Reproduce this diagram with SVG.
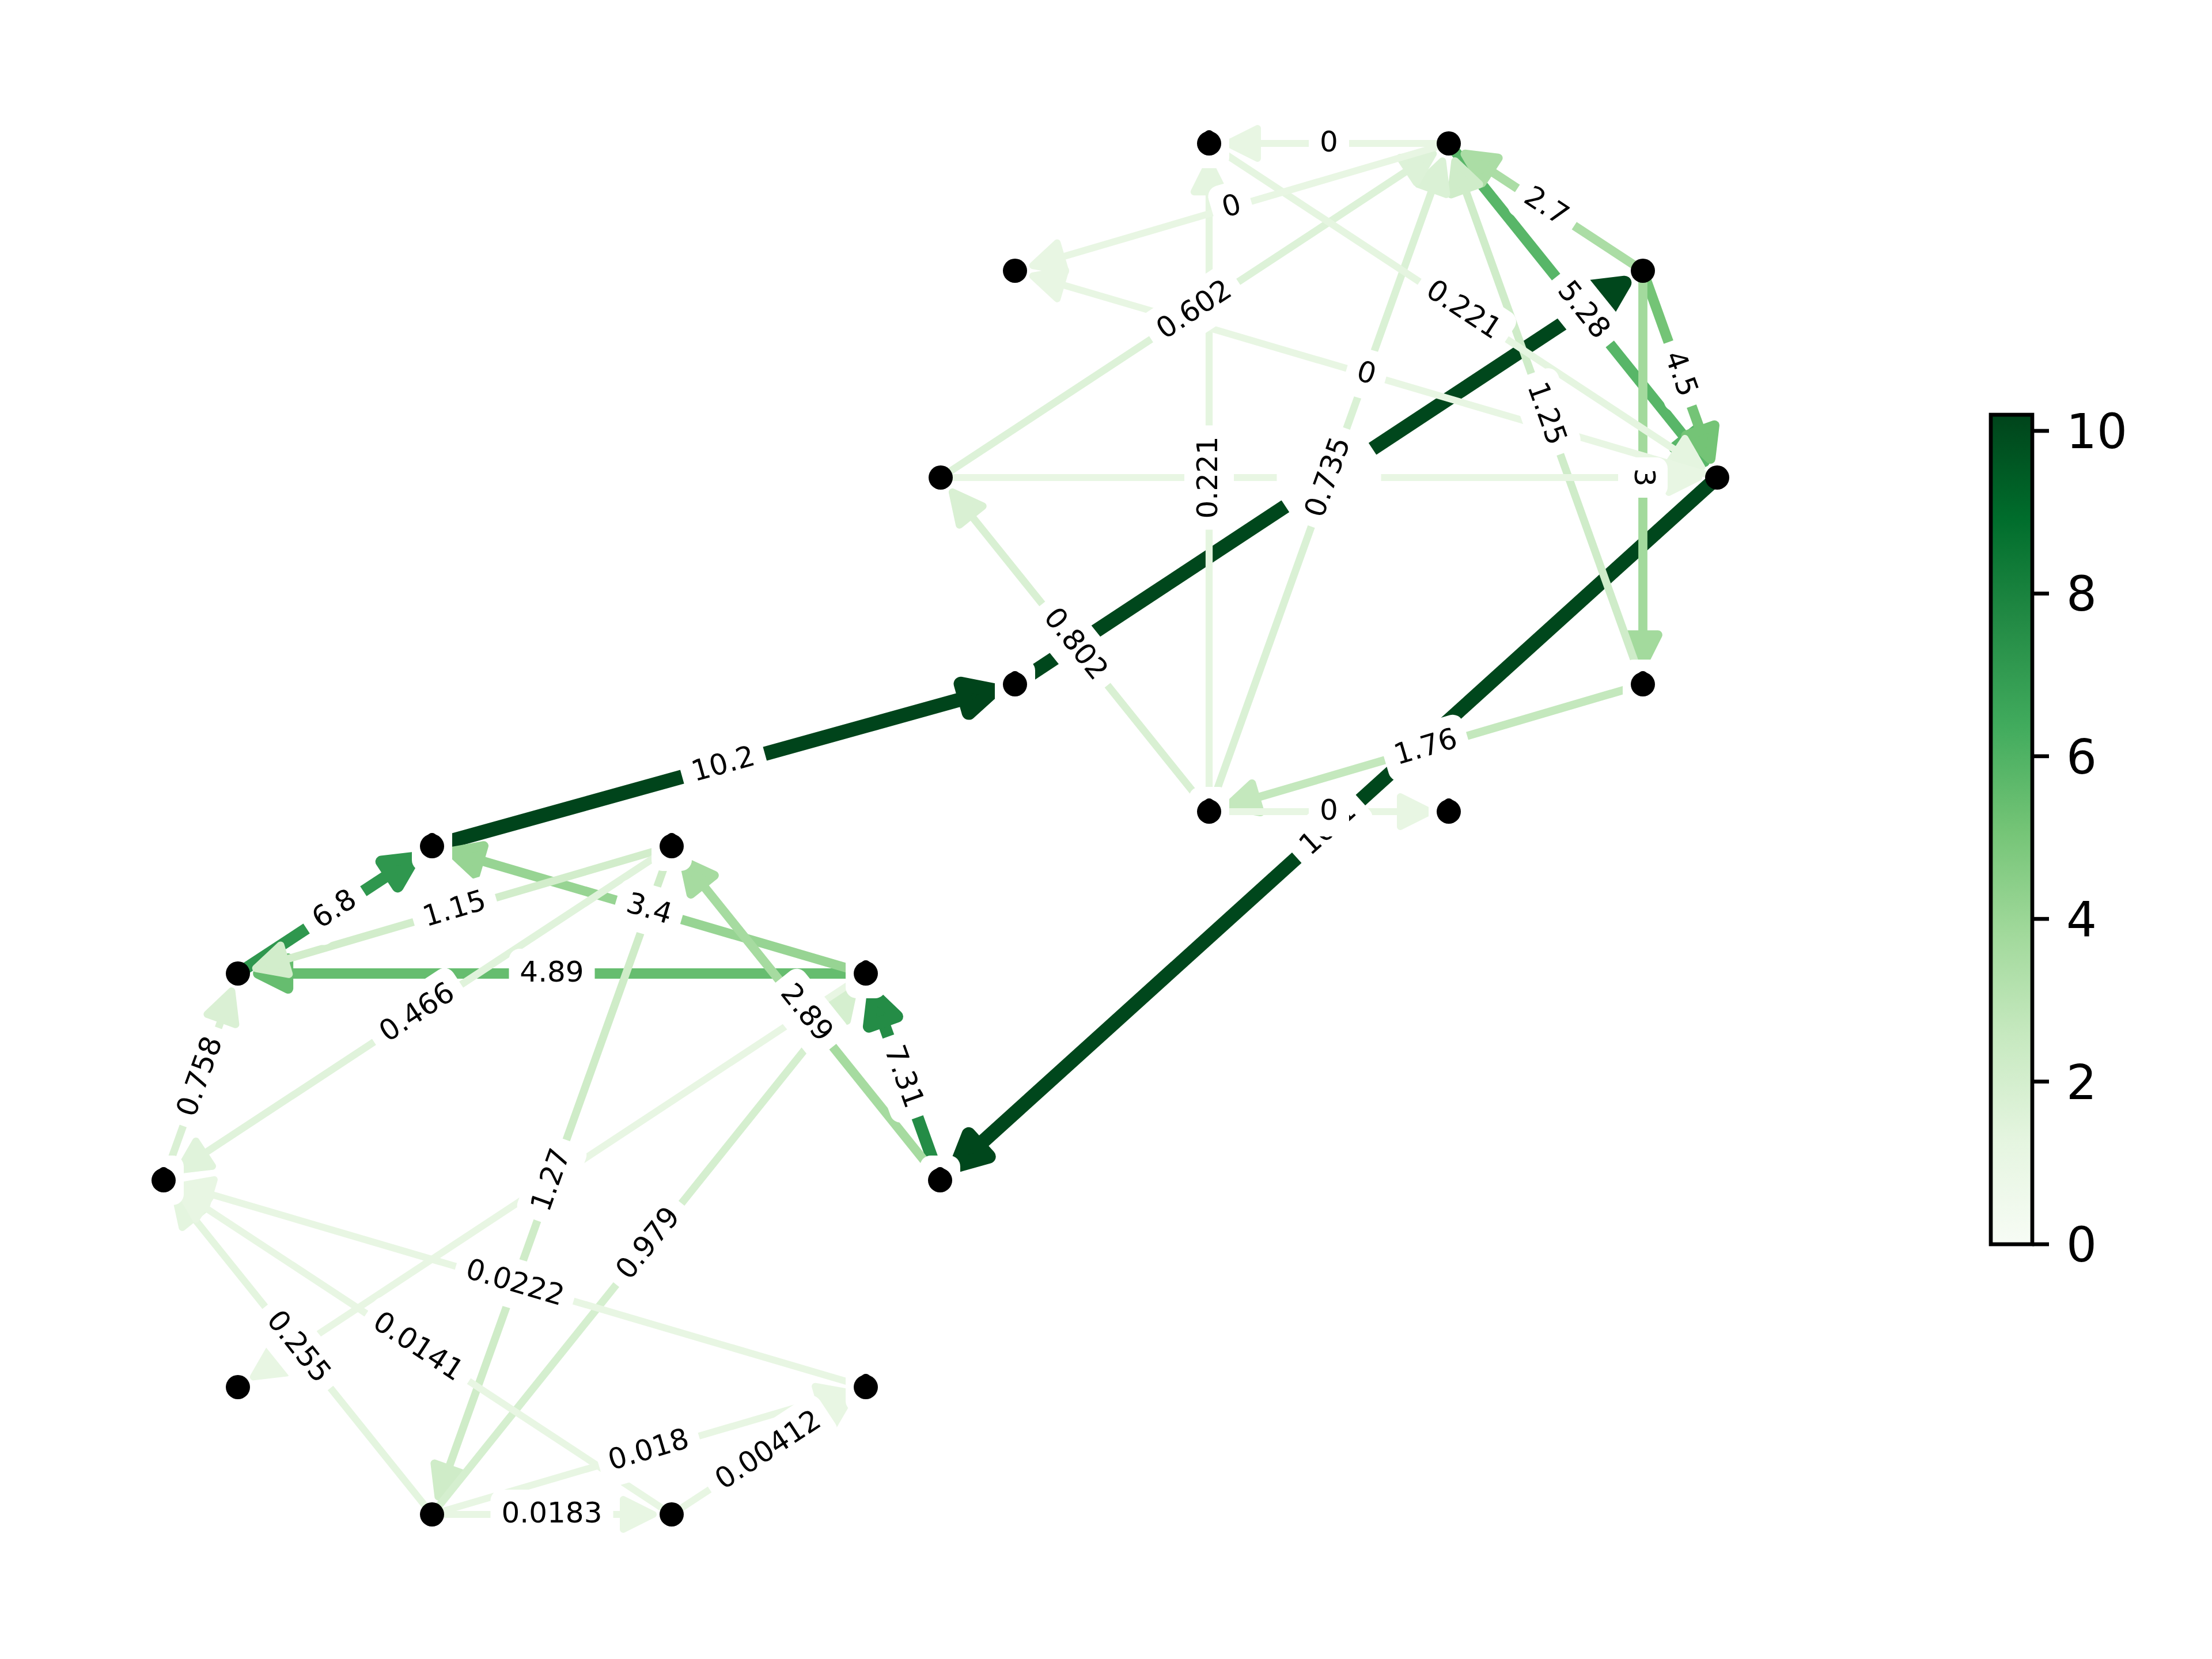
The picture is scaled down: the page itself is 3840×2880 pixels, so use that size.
<svg xmlns="http://www.w3.org/2000/svg" width="3840" height="2880" viewBox="0 0 3840 2880">
<defs>
<linearGradient id="greens" x1="0" y1="1" x2="0" y2="0">
<stop offset="0" stop-color="#f7fcf5"/>
<stop offset="0.125" stop-color="#e5f5e0"/>
<stop offset="0.25" stop-color="#c7e9c0"/>
<stop offset="0.375" stop-color="#a1d99b"/>
<stop offset="0.5" stop-color="#74c476"/>
<stop offset="0.625" stop-color="#41ab5d"/>
<stop offset="0.75" stop-color="#238b45"/>
<stop offset="0.875" stop-color="#006d2c"/>
<stop offset="1" stop-color="#00441b"/>
</linearGradient>
<style>
.edge line{fill:none;stroke-linecap:butt}
.edge polygon{stroke-linejoin:round}
.bx{fill:#ffffff;stroke:none}
.lbl{font-family:"DejaVu Sans","Liberation Sans",sans-serif;font-size:50px;text-anchor:middle;fill:#000000}
.node circle{fill:#000000}
.tick{font-family:"DejaVu Sans","Liberation Sans",sans-serif;font-size:83.3px;fill:#000000}
</style>
</defs>
<rect width="3840" height="2880" fill="#ffffff"/>
<g id="edges">
<g class="edge" id="e-K-H" stroke="#00441b" fill="#00441b" stroke-width="24.75"><line x1="750" y1="1469" x2="1677.8" y2="1211.4"/><polygon points="1725.0,1198.3 1681.9,1237.2 1667.9,1187.1"/></g>
<g class="edge" id="e-F-P" stroke="#00471c" fill="#00471c" stroke-width="24.63"><line x1="2981" y1="829" x2="1696.8" y2="1990.4"/><polygon points="1660.4,2023.3 1681.6,1969.2 1716.4,2007.7"/></g>
<g class="edge" id="e-H-C" stroke="#00471c" fill="#00471c" stroke-width="24.5"><line x1="1762" y1="1188" x2="2779.1" y2="518.0"/><polygon points="2820.1,491.0 2790.9,541.4 2762.3,498.0"/></g>
<g class="edge" id="e-P-N" stroke="#248c46" fill="#248c46" stroke-width="21.14"><line x1="1632" y1="2049" x2="1531.9" y2="1770.5"/><polygon points="1515.4,1724.4 1557.4,1764.6 1508.5,1782.1"/></g>
<g class="edge" id="e-M-K" stroke="#2f974e" fill="#2f974e" stroke-width="20.5"><line x1="413" y1="1690" x2="678.7" y2="1515.8"/><polygon points="719.7,1488.9 690.5,1539.1 661.9,1495.7"/></g>
<g class="edge" id="e-B-F" stroke="#58b668" fill="#58b668" stroke-width="18.6"><line x1="2515" y1="249" x2="2928.2" y2="763.3"/><polygon points="2958.9,801.5 2906.0,777.2 2946.6,744.7"/></g>
<g class="edge" id="e-N-M" stroke="#66bd6f" fill="#66bd6f" stroke-width="18.11"><line x1="1503" y1="1690" x2="497.1" y2="1690"/><polygon points="448.1,1690 500.1,1664 500.1,1716"/></g>
<g class="edge" id="e-C-F" stroke="#74c476" fill="#74c476" stroke-width="17.63"><line x1="2852" y1="470" x2="2952.7" y2="750.1"/><polygon points="2969.2,796.3 2927.2,756.1 2976.1,738.5"/></g>
<g class="edge" id="e-N-K" stroke="#97d493" fill="#97d493" stroke-width="16.25"><line x1="1503" y1="1690" x2="829.8" y2="1492.4"/><polygon points="782.7,1478.6 839.9,1468.3 825.3,1518.2"/></g>
<g class="edge" id="e-C-G" stroke="#a3da9d" fill="#a3da9d" stroke-width="15.75"><line x1="2852" y1="470" x2="2852" y2="1105.1"/><polygon points="2852,1154.1 2826,1102.1 2878,1102.1"/></g>
<g class="edge" id="e-P-L" stroke="#a6dba0" fill="#a6dba0" stroke-width="15.61"><line x1="1632" y1="2049" x2="1217.9" y2="1533.6"/><polygon points="1187.2,1495.4 1240.0,1519.6 1199.4,1552.2"/></g>
<g class="edge" id="e-C-B" stroke="#abdda5" fill="#abdda5" stroke-width="15.38"><line x1="2852" y1="470" x2="2584.1" y2="294.3"/><polygon points="2543.2,267.5 2600.9,274.3 2572.4,317.7"/></g>
<g class="edge" id="e-G-I" stroke="#c4e8bd" fill="#c4e8bd" stroke-width="14.2"><line x1="2852" y1="1188" x2="2177.8" y2="1385.9"/><polygon points="2130.8,1399.7 2173.3,1360.1 2188.0,1410.0"/></g>
<g class="edge" id="e-L-S" stroke="#cfecc8" fill="#cfecc8" stroke-width="13.59"><line x1="1166" y1="1469" x2="777.6" y2="2552.0"/><polygon points="761.1,2598.1 754.2,2540.4 803.1,2558.0"/></g>
<g class="edge" id="e-G-B" stroke="#cfecc9" fill="#cfecc9" stroke-width="13.56"><line x1="2852" y1="1188" x2="2542.6" y2="326.0"/><polygon points="2526.1,279.9 2568.1,320.0 2519.2,337.6"/></g>
<g class="edge" id="e-L-M" stroke="#d2edcb" fill="#d2edcb" stroke-width="13.44"><line x1="1166" y1="1469" x2="491.4" y2="1667.0"/><polygon points="444.4,1680.8 487.0,1641.2 501.6,1691.1"/></g>
<g class="edge" id="e-S-N" stroke="#d5efcf" fill="#d5efcf" stroke-width="13.22"><line x1="750" y1="2629" x2="1451.9" y2="1753.7"/><polygon points="1482.6,1715.4 1470.4,1772.3 1429.8,1739.7"/></g>
<g class="edge" id="e-I-E" stroke="#d9f0d3" fill="#d9f0d3" stroke-width="13.0"><line x1="2099" y1="1409" x2="1684.0" y2="892.5"/><polygon points="1653.4,854.3 1706.2,878.6 1665.6,911.2"/></g>
<g class="edge" id="e-O-M" stroke="#daf0d4" fill="#daf0d4" stroke-width="12.95"><line x1="284" y1="2049" x2="385.5" y2="1766.7"/><polygon points="402.0,1720.6 408.9,1778.3 359.9,1760.7"/></g>
<g class="edge" id="e-I-B" stroke="#daf1d5" fill="#daf1d5" stroke-width="12.92"><line x1="2099" y1="1409" x2="2487.5" y2="325.7"/><polygon points="2504.0,279.6 2511.0,337.3 2462.0,319.7"/></g>
<g class="edge" id="e-E-B" stroke="#ddf2d8" fill="#ddf2d8" stroke-width="12.75"><line x1="1633" y1="829" x2="2447.0" y2="293.7"/><polygon points="2487.9,266.8 2458.8,317.1 2430.2,273.7"/></g>
<g class="edge" id="e-L-O" stroke="#e0f3db" fill="#e0f3db" stroke-width="12.58"><line x1="1166" y1="1469" x2="351.9" y2="2004.3"/><polygon points="311.0,2031.3 340.1,1981.0 368.7,2024.4"/></g>
<g class="edge" id="e-S-O" stroke="#e4f5df" fill="#e4f5df" stroke-width="12.32"><line x1="750" y1="2629" x2="334.8" y2="2112.3"/><polygon points="304.1,2074.1 357.0,2098.3 316.4,2130.9"/></g>
<g class="edge" id="e-I-A" stroke="#e5f5e0" fill="#e5f5e0" stroke-width="12.28"><line x1="2099" y1="1409" x2="2099" y2="330.1"/><polygon points="2099,281.1 2073,333.1 2125,333.1"/></g>
<g class="edge" id="e-A-F" stroke="#e5f5e0" fill="#e5f5e0" stroke-width="12.28"><line x1="2099" y1="249" x2="2913.2" y2="784.4"/><polygon points="2954.1,811.3 2896.4,804.5 2925.0,761.1"/></g>
<g class="edge" id="e-R-O" stroke="#e8f6e3" fill="#e8f6e3" stroke-width="12.03"><line x1="1503" y1="2408" x2="361.7" y2="2071.9"/><polygon points="314.7,2058.0 371.9,2047.8 357.2,2097.7"/></g>
<g class="edge" id="e-S-T" stroke="#e8f6e3" fill="#e8f6e3" stroke-width="12"><line x1="750" y1="2629" x2="1085" y2="2629"/><polygon points="1134,2629 1082,2603 1082,2655"/></g>
<g class="edge" id="e-S-R" stroke="#e8f6e3" fill="#e8f6e3" stroke-width="12"><line x1="750" y1="2629" x2="1425.3" y2="2430.8"/><polygon points="1472.3,2417.0 1429.7,2456.6 1415.1,2406.7"/></g>
<g class="edge" id="e-T-O" stroke="#e8f6e3" fill="#e8f6e3" stroke-width="12"><line x1="1166" y1="2629" x2="351.7" y2="2093.5"/><polygon points="310.7,2066.6 368.5,2073.4 339.9,2116.9"/></g>
<g class="edge" id="e-T-R" stroke="#e8f6e3" fill="#e8f6e3" stroke-width="12"><line x1="1166" y1="2629" x2="1435.3" y2="2452.4"/><polygon points="1476.2,2425.5 1447.0,2475.8 1418.5,2432.3"/></g>
<g class="edge" id="e-B-A" stroke="#e8f6e3" fill="#e8f6e3" stroke-width="12"><line x1="2515" y1="249" x2="2180" y2="249"/><polygon points="2131,249 2183,223 2183,275"/></g>
<g class="edge" id="e-B-D" stroke="#e8f6e3" fill="#e8f6e3" stroke-width="12"><line x1="2515" y1="249" x2="1839.7" y2="447.2"/><polygon points="1792.7,461.0 1849.9,471.3 1835.3,421.4"/></g>
<g class="edge" id="e-F-D" stroke="#e8f6e3" fill="#e8f6e3" stroke-width="12"><line x1="2981" y1="829" x2="1839.7" y2="492.9"/><polygon points="1792.7,479.0 1849.9,468.8 1835.2,518.7"/></g>
<g class="edge" id="e-E-F" stroke="#e8f6e3" fill="#e8f6e3" stroke-width="12"><line x1="1633" y1="829" x2="2900" y2="829"/><polygon points="2949,829 2897,803 2897,855"/></g>
<g class="edge" id="e-I-J" stroke="#e8f6e3" fill="#e8f6e3" stroke-width="12"><line x1="2099" y1="1409" x2="2434" y2="1409"/><polygon points="2483,1409 2431,1383 2431,1435"/></g>
<g class="edge" id="e-N-Q" stroke="#e8f6e3" fill="#e8f6e3" stroke-width="12"><line x1="1503" y1="1690" x2="480.6" y2="2363.4"/><polygon points="439.7,2390.4 468.8,2340.1 497.4,2383.5"/></g>
</g>
<g id="edge-labels">
<g transform="translate(2099,249)"><rect class="bx" x="-35" y="-43" width="70" height="86" rx="19"/><ellipse cx="0" cy="-4.2" rx="12.5" ry="18.9" fill="#000"/></g>
<g transform="translate(2852,1188)"><rect class="bx" x="-35" y="-43" width="70" height="86" rx="19"/><ellipse cx="0" cy="-4.2" rx="12.5" ry="18.9" fill="#000"/></g>
<g transform="translate(1762,1188)"><rect class="bx" x="-35" y="-43" width="70" height="86" rx="19"/><ellipse cx="0" cy="-4.2" rx="12.5" ry="18.9" fill="#000"/></g>
<g transform="translate(2099,1409)"><rect class="bx" x="-35" y="-43" width="70" height="86" rx="19"/><ellipse cx="0" cy="-4.2" rx="12.5" ry="18.9" fill="#000"/></g>
<g transform="translate(2515,1409)"><rect class="bx" x="-35" y="-43" width="70" height="86" rx="19"/><ellipse cx="0" cy="-4.2" rx="12.5" ry="18.9" fill="#000"/></g>
<g transform="translate(750,1469)"><rect class="bx" x="-35" y="-43" width="70" height="86" rx="19"/><ellipse cx="0" cy="-4.2" rx="12.5" ry="18.9" fill="#000"/></g>
<g transform="translate(1166,1469)"><rect class="bx" x="-35" y="-43" width="70" height="86" rx="19"/><ellipse cx="0" cy="-4.2" rx="12.5" ry="18.9" fill="#000"/></g>
<g transform="translate(1503,1690)"><rect class="bx" x="-35" y="-43" width="70" height="86" rx="19"/><ellipse cx="0" cy="-4.2" rx="12.5" ry="18.9" fill="#000"/></g>
<g transform="translate(284,2049)"><rect class="bx" x="-35" y="-43" width="70" height="86" rx="19"/><ellipse cx="0" cy="-4.2" rx="12.5" ry="18.9" fill="#000"/></g>
<g transform="translate(1632,2049)"><rect class="bx" x="-35" y="-43" width="70" height="86" rx="19"/><ellipse cx="0" cy="-4.2" rx="12.5" ry="18.9" fill="#000"/></g>
<g transform="translate(1503,2408)"><rect class="bx" x="-35" y="-43" width="70" height="86" rx="19"/><ellipse cx="0" cy="-4.2" rx="12.5" ry="18.9" fill="#000"/></g>

<g transform="translate(2307,249)"><rect class="bx" x="-35" y="-43" width="70" height="86" rx="19"/><text class="lbl" y="14">0</text></g>
<g transform="translate(2138.5,359.5) rotate(-16.4)"><rect class="bx" x="-35" y="-43" width="70" height="86" rx="19"/><text class="lbl" y="14">0</text></g>
<g transform="translate(2099,829) rotate(-90)"><rect class="bx" x="-90.5" y="-43" width="181" height="86" rx="19"/><text class="lbl" y="14">0.221</text></g>
<g transform="translate(2074,539) rotate(-33.3)"><rect class="bx" x="-90.5" y="-43" width="181" height="86" rx="19"/><text class="lbl" y="14">0.602</text></g>
<g transform="translate(2371.5,649.5) rotate(16.4)"><rect class="bx" x="-35" y="-43" width="70" height="86" rx="19"/><text class="lbl" y="14">0</text></g>
<g transform="translate(2540,539) rotate(33.3)"><rect class="bx" x="-90.5" y="-43" width="181" height="86" rx="19"/><text class="lbl" y="14">0.221</text></g>
<g transform="translate(2852,829) rotate(90)"><rect class="bx" x="-35" y="-43" width="70" height="86" rx="19"/><text class="lbl" y="14">3</text></g>
<g transform="translate(2307,829)"><rect class="bx" x="-90.5" y="-43" width="181" height="86" rx="19"/></g>
<g transform="translate(2307,829) rotate(-33.35)"><rect class="bx" x="-90.5" y="-43" width="181" height="86" rx="19"/></g>
<g transform="translate(2307,829) rotate(-70.27)"><rect class="bx" x="-90.5" y="-43" width="181" height="86" rx="19"/><text class="lbl" y="14">0.735</text></g>
<g transform="translate(2683.5,718.5) rotate(70.3)"><rect class="bx" x="-74.5" y="-43" width="149" height="86" rx="19"/><text class="lbl" y="14">1.25</text></g>
<g transform="translate(2748,539) rotate(51.2)"><rect class="bx" x="-74.5" y="-43" width="149" height="86" rx="19"/><text class="lbl" y="14">5.28</text></g>
<g transform="translate(2916.5,649.5) rotate(70.2)"><rect class="bx" x="-59" y="-43" width="118" height="86" rx="19"/><text class="lbl" y="14">4.5</text></g>
<g transform="translate(2683.5,359.5) rotate(33.3)"><rect class="bx" x="-59" y="-43" width="118" height="86" rx="19"/><text class="lbl" y="14">2.7</text></g>
<g transform="translate(1866,1119) rotate(51.2)"><rect class="bx" x="-90.5" y="-43" width="181" height="86" rx="19"/><text class="lbl" y="14">0.802</text></g>
<g transform="translate(2475.5,1298.5) rotate(-16.4)"><rect class="bx" x="-74.5" y="-43" width="149" height="86" rx="19"/><text class="lbl" y="14">1.76</text></g>
<g transform="translate(2306.5,1439) rotate(-42.1)"><rect class="bx" x="-74.5" y="-43" width="149" height="86" rx="19"/><text class="lbl" y="14">10.1</text></g>
<g transform="translate(2307,1409)"><rect class="bx" x="-35" y="-43" width="70" height="86" rx="19"/><text class="lbl" y="14">0</text></g>
<g transform="translate(1256,1328.5) rotate(-15.5)"><rect class="bx" x="-74.5" y="-43" width="149" height="86" rx="19"/><text class="lbl" y="14">10.2</text></g>
<g transform="translate(581.5,1579.5) rotate(-33.3)"><rect class="bx" x="-59" y="-43" width="118" height="86" rx="19"/><text class="lbl" y="14">6.8</text></g>
<g transform="translate(789.5,1579.5) rotate(-16.4)"><rect class="bx" x="-74.5" y="-43" width="149" height="86" rx="19"/><text class="lbl" y="14">1.15</text></g>
<g transform="translate(1126.5,1579.5) rotate(16.4)"><rect class="bx" x="-59" y="-43" width="118" height="86" rx="19"/><text class="lbl" y="14">3.4</text></g>
<g transform="translate(958,1690)"><rect class="bx" x="-74.5" y="-43" width="149" height="86" rx="19"/><text class="lbl" y="14">4.89</text></g>
<g transform="translate(725,1759) rotate(-33.3)"><rect class="bx" x="-90.5" y="-43" width="181" height="86" rx="19"/><text class="lbl" y="14">0.466</text></g>
<g transform="translate(348.5,1869.5) rotate(-70.2)"><rect class="bx" x="-90.5" y="-43" width="181" height="86" rx="19"/><text class="lbl" y="14">0.758</text></g>
<g transform="translate(958,2049) rotate(-70.3)"><rect class="bx" x="-74.5" y="-43" width="149" height="86" rx="19"/><text class="lbl" y="14">1.27</text></g>
<g transform="translate(1399,1759) rotate(51.2)"><rect class="bx" x="-74.5" y="-43" width="149" height="86" rx="19"/><text class="lbl" y="14">2.89</text></g>
<g transform="translate(1567.5,1869.5) rotate(70.2)"><rect class="bx" x="-74.5" y="-43" width="149" height="86" rx="19"/><text class="lbl" y="14">7.31</text></g>
<g transform="translate(1126.5,2159.5) rotate(-51.3)"><rect class="bx" x="-90.5" y="-43" width="181" height="86" rx="19"/><text class="lbl" y="14">0.979</text></g>
<g transform="translate(893.5,2228.5) rotate(16.4)"><rect class="bx" x="-106.5" y="-43" width="213" height="86" rx="19"/><text class="lbl" y="14">0.0222</text></g>
<g transform="translate(725,2339) rotate(33.3)"><rect class="bx" x="-106.5" y="-43" width="213" height="86" rx="19"/><text class="lbl" y="14">0.0141</text></g>
<g transform="translate(517,2339) rotate(51.2)"><rect class="bx" x="-90.5" y="-43" width="181" height="86" rx="19"/><text class="lbl" y="14">0.255</text></g>
<g transform="translate(1126.5,2518.5) rotate(-16.4)"><rect class="bx" x="-90.5" y="-43" width="181" height="86" rx="19"/><text class="lbl" y="14">0.018</text></g>
<g transform="translate(1334.5,2518.5) rotate(-33.3)"><rect class="bx" x="-122.5" y="-43" width="245" height="86" rx="19"/><text class="lbl" y="14">0.00412</text></g>
<g transform="translate(958,2629)"><rect class="bx" x="-106.5" y="-43" width="213" height="86" rx="19"/><text class="lbl" y="14">0.0183</text></g>
</g>
<g id="nodes" class="node">
<g id="node-A"><circle cx="2099" cy="249" r="21"/></g>
<g id="node-B"><circle cx="2515" cy="249" r="21"/></g>
<g id="node-C"><circle cx="2852" cy="470" r="21"/></g>
<g id="node-D"><circle cx="1762" cy="470" r="21"/></g>
<g id="node-E"><circle cx="1633" cy="829" r="21"/></g>
<g id="node-F"><circle cx="2981" cy="829" r="21"/></g>
<g id="node-G"><circle cx="2852" cy="1188" r="21"/></g>
<g id="node-H"><circle cx="1762" cy="1188" r="21"/></g>
<g id="node-I"><circle cx="2099" cy="1409" r="21"/></g>
<g id="node-J"><circle cx="2515" cy="1409" r="21"/></g>
<g id="node-K"><circle cx="750" cy="1469" r="21"/></g>
<g id="node-L"><circle cx="1166" cy="1469" r="21"/></g>
<g id="node-M"><circle cx="413" cy="1690" r="21"/></g>
<g id="node-N"><circle cx="1503" cy="1690" r="21"/></g>
<g id="node-O"><circle cx="284" cy="2049" r="21"/></g>
<g id="node-P"><circle cx="1632" cy="2049" r="21"/></g>
<g id="node-Q"><circle cx="413" cy="2408" r="21"/></g>
<g id="node-R"><circle cx="1503" cy="2408" r="21"/></g>
<g id="node-S"><circle cx="750" cy="2629" r="21"/></g>
<g id="node-T"><circle cx="1166" cy="2629" r="21"/></g>
</g>
<g id="colorbar">
<rect x="3456" y="720" width="72" height="1440" fill="url(#greens)" stroke="#000" stroke-width="6.7"/>
<g stroke="#000" stroke-width="6.7">
<line x1="3528" y1="2160" x2="3557" y2="2160"/>
<line x1="3528" y1="1877.6" x2="3557" y2="1877.6"/>
<line x1="3528" y1="1595.2" x2="3557" y2="1595.2"/>
<line x1="3528" y1="1312.8" x2="3557" y2="1312.8"/>
<line x1="3528" y1="1030.4" x2="3557" y2="1030.4"/>
<line x1="3528" y1="748" x2="3557" y2="748"/>
</g>
<text class="tick" x="3587" y="2190">0</text>
<text class="tick" x="3587" y="1907.6">2</text>
<text class="tick" x="3587" y="1625.2">4</text>
<text class="tick" x="3587" y="1342.8">6</text>
<text class="tick" x="3587" y="1060.4">8</text>
<text class="tick" x="3587" y="778">10</text>
</g>
</svg>
